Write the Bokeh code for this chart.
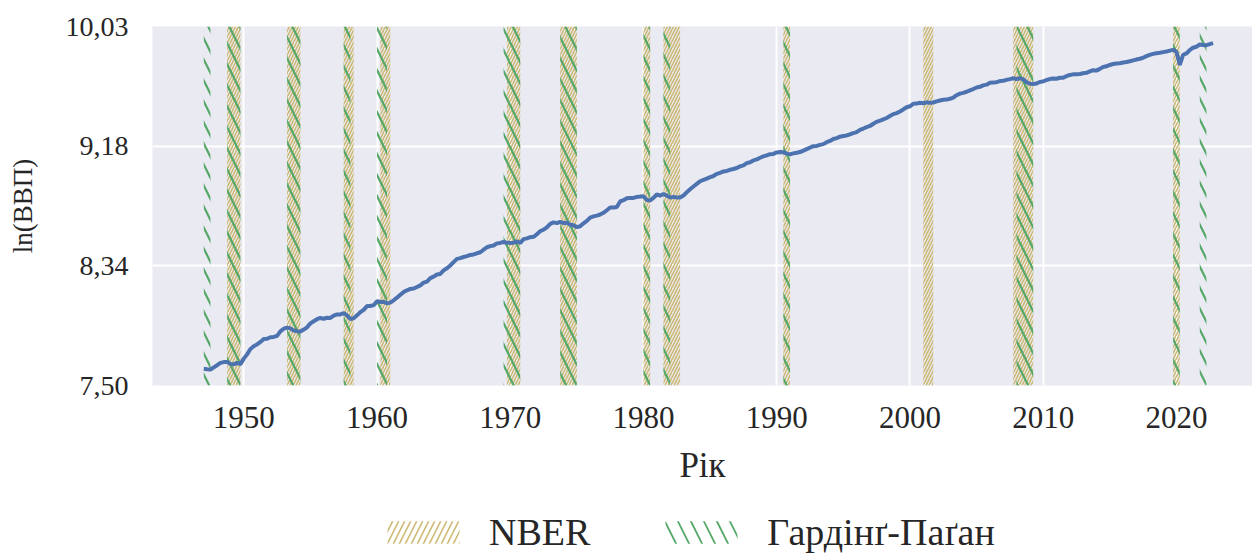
import numpy as np
import pandas as pd
from bokeh.plotting import figure
from bokeh.layouts import column
from bokeh.models import ColumnDataSource, FixedTicker, Legend, LegendItem, Range1d
from bokeh.embed import file_html
from bokeh.resources import INLINE

# Real GDP, billions of chained 2012 dollars, quarterly 1947Q1 - 2022Q4
gdp = [
    2033.1, 2027.6, 2023.5, 2055.1,   # 1947
    2086.0, 2120.5, 2132.6, 2135.0,   # 1948
    2105.6, 2098.4, 2120.0, 2102.3,   # 1949
    2184.9, 2251.5, 2338.5, 2383.2,   # 1950
    2415.7, 2457.5, 2508.2, 2513.7,   # 1951
    2540.6, 2546.0, 2564.4, 2648.6,   # 1952
    2697.9, 2718.7, 2703.4, 2662.5,   # 1953
    2649.9, 2645.1, 2680.8, 2725.6,   # 1954
    2800.8, 2843.9, 2885.3, 2910.7,   # 1955
    2895.1, 2913.8, 2909.8, 2958.6,   # 1956
    2984.5, 2984.5, 3010.0, 2963.1,   # 1957
    2889.9, 2903.6, 2964.0, 3031.8,   # 1958
    3082.4, 3164.4, 3165.5, 3184.7,   # 1959
    3275.8, 3256.4, 3262.0, 3225.6,   # 1960
    3243.3, 3296.2, 3357.0, 3428.3,   # 1961
    3492.1, 3536.8, 3571.9, 3580.4,   # 1962
    3620.3, 3661.3, 3733.4, 3759.0,   # 1963
    3852.1, 3893.7, 3952.6, 3968.1,   # 1964
    4069.0, 4130.6, 4213.9, 4314.8,   # 1965
    4413.9, 4437.6, 4472.6, 4498.2,   # 1966
    4538.0, 4551.9, 4591.1, 4623.4,   # 1967
    4707.1, 4790.0, 4828.6, 4848.0,   # 1968
    4923.1, 4938.3, 4971.3, 4947.1,   # 1969
    4939.8, 4946.8, 4992.4, 4938.9,   # 1970
    5073.4, 5100.4, 5142.4, 5154.5,   # 1971
    5249.3, 5368.3, 5419.2, 5509.9,   # 1972
    5646.3, 5707.8, 5677.7, 5731.6,   # 1973
    5682.4, 5695.9, 5610.9, 5592.2,   # 1974
    5517.7, 5554.9, 5671.3, 5766.5,   # 1975
    5905.9, 5952.9, 5987.9, 6034.1,   # 1976
    6106.4, 6218.1, 6338.9, 6336.8,   # 1977
    6356.3, 6613.6, 6674.3, 6761.6,   # 1978
    6778.5, 6782.6, 6829.9, 6844.1,   # 1979
    6859.7, 6679.2, 6663.8, 6778.2,   # 1980
    6946.8, 6889.7, 6971.0, 6890.6,   # 1981
    6802.8, 6830.1, 6798.7, 6806.1,   # 1982
    6895.5, 7059.0, 7204.4, 7347.9,   # 1983
    7484.7, 7626.9, 7697.0, 7769.8,   # 1984
    7848.0, 7912.6, 8034.8, 8095.8,   # 1985
    8170.4, 8203.5, 8269.3, 8314.3,   # 1986
    8373.6, 8469.3, 8528.6, 8666.2,   # 1987
    8718.5, 8834.7, 8894.0, 9001.7,   # 1988
    9089.4, 9151.8, 9230.2, 9248.4,   # 1989
    9342.5, 9365.2, 9361.4, 9266.2,   # 1990
    9218.9, 9283.9, 9322.0, 9369.2,   # 1991
    9466.2, 9567.2, 9666.2, 9767.7,   # 1992
    9783.9, 9853.7, 9908.3, 10041.6,  # 1993
    10133.3, 10270.9, 10331.9, 10439.8,  # 1994
    10490.0, 10530.0, 10620.0, 10700.0,  # 1995
    10780.0, 10960.0, 11060.0, 11170.0,  # 1996
    11260.0, 11440.0, 11590.0, 11690.0,  # 1997
    11800.0, 11910.0, 12080.0, 12240.0,  # 1998
    12330.0, 12470.0, 12650.0, 12850.0,  # 1999
    12935.0, 13170.0, 13183.0, 13262.0,  # 2000
    13219.0, 13301.0, 13249.0, 13285.0,  # 2001
    13394.0, 13478.0, 13539.0, 13559.0,  # 2002
    13634.0, 13751.0, 13985.0, 14145.0,  # 2003
    14221.0, 14330.0, 14474.0, 14605.0,  # 2004
    14767.0, 14839.0, 14993.0, 15066.0,  # 2005
    15268.0, 15302.0, 15327.0, 15457.0,  # 2006
    15493.0, 15583.0, 15667.0, 15762.0,  # 2007
    15672.0, 15753.0, 15667.0, 15329.0,  # 2008
    15163.0, 15134.0, 15190.0, 15356.0,  # 2009
    15416.0, 15566.0, 15669.0, 15742.0,  # 2010
    15709.0, 15819.0, 15824.0, 16000.0,  # 2011
    16129.0, 16199.0, 16220.0, 16240.0,  # 2012
    16331.0, 16372.0, 16537.0, 16685.0,  # 2013
    16633.0, 16838.0, 17067.0, 17144.0,  # 2014
    17306.0, 17423.0, 17486.0, 17514.0,  # 2015
    17613.0, 17669.0, 17765.0, 17877.0,  # 2016
    17980.0, 18087.0, 18213.0, 18417.0,  # 2017
    18579.0, 18713.0, 18795.0, 18868.0,  # 2018
    18950.0, 19020.0, 19141.0, 19254.0,  # 2019
    18990.0, 17303.0, 18597.0, 18767.0,  # 2020
    19216.0, 19544.0, 19673.0, 20006.0,  # 2021
    19924.0, 19895.0, 20055.0, 20182.0,  # 2022
]

# NBER recessions (peak quarter, trough quarter)
nber_start = ["1948Q4", "1953Q2", "1957Q3", "1960Q2", "1969Q4", "1973Q4",
              "1980Q1", "1981Q3", "1990Q3", "2001Q1", "2007Q4", "2019Q4"]
nber_end = ["1949Q4", "1954Q2", "1958Q2", "1961Q1", "1970Q4", "1975Q1",
            "1980Q3", "1982Q4", "1991Q1", "2001Q4", "2009Q2", "2020Q2"]

# Harding-Pagan recessions
hp_start = ["1947Q1", "1948Q4", "1953Q2", "1957Q3", "1960Q1", "1969Q3", "1973Q4",
            "1980Q1", "1981Q3", "1990Q3", "2008Q1", "2019Q4", "2021Q4"]
hp_end = ["1947Q3", "1949Q4", "1954Q2", "1958Q1", "1960Q4", "1970Q4", "1975Q1",
          "1980Q3", "1982Q1", "1991Q1", "2009Q2", "2020Q2", "2022Q2"]

x_ticks = [1950, 1960, 1970, 1980, 1990, 2000, 2010, 2020]
y_ticks = [7.50, 8.343, 9.187, 10.03]
y_tick_labels = ["7,50", "8,34", "9,18", "10,03"]
Y_MIN, Y_MAX = 7.50, 10.03


def q2y(qs):
    per = pd.PeriodIndex(qs, freq="Q")
    return list(per.year + (per.quarter - 1) / 4.0)


per = pd.period_range("1947Q1", periods=len(gdp), freq="Q")
years = per.year + (per.quarter - 1) / 4.0
line_src = ColumnDataSource(dict(x=list(years), y=list(np.log(gdp))))

FONT = "Liberation Serif"
TXT = "#262626"
NBER_COLOR = "#CCB974"
HP_COLOR = "#55A868"

p = figure(width=1252, height=500, output_backend="svg", toolbar_location=None,
           x_range=Range1d(1943.15, 2025.71), y_range=Range1d(Y_MIN, Y_MAX),
           min_border_left=152, min_border_top=26, min_border_right=0,
           min_border_bottom=115)
p.background_fill_color = "#EAEAF2"
p.border_fill_color = "white"
p.outline_line_color = None

p.xgrid.grid_line_color = "white"
p.ygrid.grid_line_color = "white"
p.xgrid.grid_line_width = 2
p.ygrid.grid_line_width = 2

p.xaxis.ticker = FixedTicker(ticks=x_ticks)
p.yaxis.ticker = FixedTicker(ticks=y_ticks)
p.yaxis.major_label_overrides = {t: l for t, l in zip(y_ticks, y_tick_labels)}

for ax in (p.xaxis[0], p.yaxis[0]):
    ax.axis_line_color = None
    ax.major_tick_line_color = None
    ax.minor_tick_line_color = None
    ax.major_tick_out = 0
    ax.major_tick_in = 0
    ax.major_label_text_font = FONT
    ax.major_label_text_color = TXT
    ax.axis_label_text_font = FONT
    ax.axis_label_text_font_style = "normal"
    ax.axis_label_text_color = TXT

p.xaxis.major_label_text_font_size = "31px"
p.yaxis.major_label_text_font_size = "28px"
p.xaxis.axis_label_text_font_size = "35px"
p.yaxis.axis_label_text_font_size = "27px"
p.xaxis.axis_label = "Рік"
p.yaxis.axis_label = "ln(ВВП)"
p.xaxis.major_label_standoff = 21
p.yaxis.major_label_standoff = 24
p.xaxis.axis_label_standoff = 15
p.yaxis.axis_label_standoff = 25

nber_src = ColumnDataSource(dict(left=q2y(nber_start), right=q2y(nber_end),
                                 bottom=[Y_MIN] * len(nber_start), top=[Y_MAX] * len(nber_start)))
hp_src = ColumnDataSource(dict(left=q2y(hp_start), right=q2y(hp_end),
                               bottom=[Y_MIN] * len(hp_start), top=[Y_MAX] * len(hp_start)))

base = dict(fill_color=None, fill_alpha=0, line_color=None)
p.quad(left="left", right="right", bottom="bottom", top="top", source=nber_src, **base,
       hatch_pattern="/", hatch_color=NBER_COLOR, hatch_scale=6, hatch_weight=1.6)
p.quad(left="left", right="right", bottom="bottom", top="top", source=hp_src, **base,
       hatch_pattern="\\", hatch_color=HP_COLOR, hatch_scale=21, hatch_weight=2.2)

p.line("x", "y", source=line_src, line_color="#4C72B0", line_width=4)

# Legend strip below the chart (its proxies reuse the band data, outside its own view)
leg = figure(width=1252, height=55, output_backend="svg", toolbar_location=None,
             x_range=Range1d(0, 1), y_range=Range1d(0, 1),
             x_axis_location=None, y_axis_location=None,
             min_border_left=0, min_border_right=0, min_border_top=0, min_border_bottom=0)
leg.grid.visible = False
leg.outline_line_color = None
leg.background_fill_color = "white"
leg.border_fill_color = "white"
r_nber = leg.quad(left="left", right="right", bottom="bottom", top="top", source=nber_src, **base,
                  hatch_pattern="/", hatch_color=NBER_COLOR, hatch_scale=12, hatch_weight=1.6)
r_hp = leg.quad(left="left", right="right", bottom="bottom", top="top", source=hp_src, **base,
                hatch_pattern="\\", hatch_color=HP_COLOR, hatch_scale=26, hatch_weight=1.8)

legend = Legend(items=[LegendItem(label="NBER", renderers=[r_nber]),
                       LegendItem(label="Гардінґ-Паґан", renderers=[r_hp])],
                orientation="horizontal", location=(226, 1),
                glyph_width=90, glyph_height=28, label_standoff=21, spacing=66,
                padding=0, margin=0, border_line_color=None, background_fill_alpha=0,
                label_text_font=FONT, label_text_font_size="38px", label_text_color=TXT)
leg.add_layout(legend)

layout = column(p, leg, spacing=0)
open("out.html", "w").write(file_html(layout, INLINE))
